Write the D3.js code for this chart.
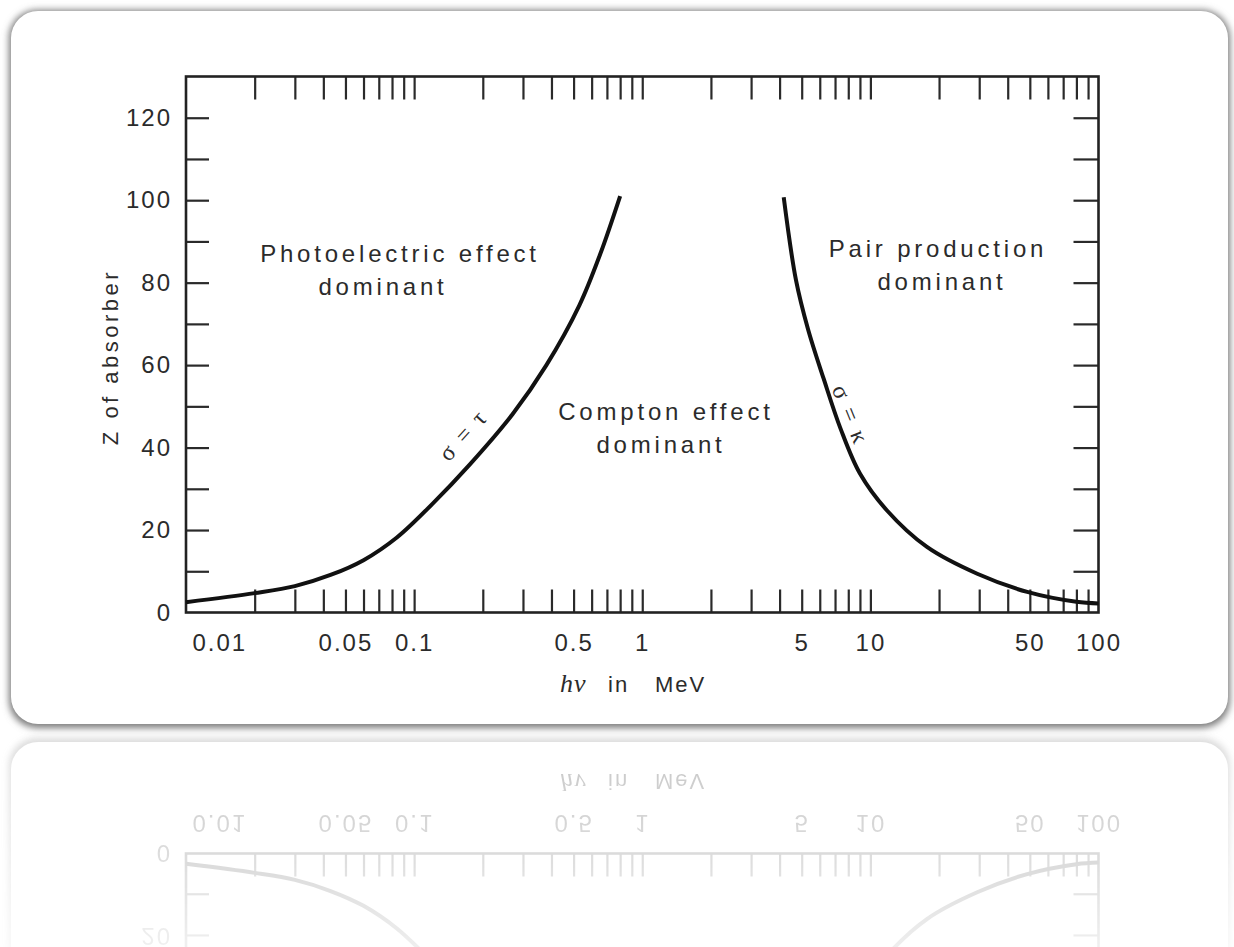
<!DOCTYPE html>
<html>
<head>
<script src="https://cdn.jsdelivr.net/npm/d3@7"></script>
<style>
  body { margin: 0; background: #fff; }
  svg text { font-family: "Liberation Sans", Arial, sans-serif; fill: #2b2b2b; }
  .tick-label text, .lbl { font-size: 24px; letter-spacing: 2px; }
  .region { font-size: 24px; letter-spacing: 3.8px; }
  .greek { font-family: "Liberation Serif", "DejaVu Serif", serif; font-size: 24px; letter-spacing: 11px; }
</style>
</head>
<body>
<svg id="fig" width="1234" height="947"></svg>
<script>
// axis ticks
const energyTicks = [0.02, 0.03, 0.04, 0.05, 0.06, 0.07, 0.08, 0.09, 0.1,
                     0.2, 0.3, 0.4, 0.5, 0.6, 0.7, 0.8, 0.9, 1,
                     2, 3, 4, 5, 6, 7, 8, 9, 10,
                     20, 30, 40, 50, 60, 70, 80, 90];
const energyLabels = [0.01, 0.05, 0.1, 0.5, 1, 5, 10, 50, 100];
const zTicks = [10, 20, 30, 40, 50, 60, 70, 80, 90, 100, 110, 120];
const zLabels = [0, 20, 40, 60, 80, 100, 120];

// sigma = tau boundary (photoelectric / Compton)
const photoEnergy = [0.01, 0.02, 0.03, 0.043, 0.06, 0.084, 0.12, 0.176, 0.27, 0.38, 0.53, 0.655, 0.8];
const photoZ      = [2.5, 4.7, 6.4, 9.1, 12.7, 18.2, 26.3, 36, 48.1, 60, 74.5, 87, 101];

// sigma = kappa boundary (Compton / pair production)
const pairEnergy = [4.17, 4.72, 5.33, 6.24, 7.4, 9.0, 11.8, 17.7, 29.4, 48.7, 80, 100];
const pairZ      = [100.7, 80.6, 68.7, 56.7, 44.6, 33.7, 24.8, 15.9, 9.4, 5.0, 2.6, 2.2];

const plotL = 186, plotR = 1098.5, plotT = 76.5, plotB = 612.5;
const x = d3.scaleLog().domain([0.01, 100]).range([plotL, plotR]);
const y = d3.scaleLinear().domain([0, 130]).range([plotB, plotT]);

const svg = d3.select("#fig");
const defs = svg.append("defs");

defs.append("filter").attr("id", "blur")
  .attr("x", "-5%").attr("y", "-5%").attr("width", "110%").attr("height", "110%")
  .append("feGaussianBlur").attr("stdDeviation", 3.5);

const grad = defs.append("linearGradient").attr("id", "fadeGrad")
  .attr("gradientUnits", "userSpaceOnUse")
  .attr("x1", 0).attr("y1", 733).attr("x2", 0).attr("y2", 947);
grad.append("stop").attr("offset", 0).attr("stop-color", "#fff").attr("stop-opacity", 0.28);
grad.append("stop").attr("offset", 1).attr("stop-color", "#fff").attr("stop-opacity", 0.07);
defs.append("mask").attr("id", "fade")
  .attr("maskUnits", "userSpaceOnUse")
  .attr("x", 0).attr("y", 733).attr("width", 1234).attr("height", 214)
  .append("rect").attr("x", 0).attr("y", 733).attr("width", 1234).attr("height", 214)
  .attr("fill", "url(#fadeGrad)");

const scene = svg.append("g").attr("id", "scene");

// card with soft rim
scene.append("rect")
  .attr("x", 9).attr("y", 10).attr("width", 1221).attr("height", 718).attr("rx", 28)
  .attr("fill", "#7a7a7a").attr("filter", "url(#blur)");
scene.append("rect")
  .attr("x", 11).attr("y", 11).attr("width", 1217).attr("height", 713).attr("rx", 27)
  .attr("fill", "#fff");

const tickStyle = g => {
  g.select(".domain").remove();
  g.selectAll(".tick line").attr("stroke", "#2a2a2a").attr("stroke-width", 2.2);
};

scene.append("g").attr("transform", `translate(0,${plotB})`)
  .call(d3.axisBottom(x).tickValues(energyTicks).tickSize(-23).tickFormat(""))
  .call(tickStyle);
scene.append("g").attr("transform", `translate(0,${plotT})`)
  .call(d3.axisTop(x).tickValues(energyTicks).tickSize(-23).tickFormat(""))
  .call(tickStyle);
scene.append("g").attr("transform", `translate(${plotL},0)`)
  .call(d3.axisLeft(y).tickValues(zTicks).tickSize(-23).tickFormat(""))
  .call(tickStyle);
scene.append("g").attr("transform", `translate(${plotR},0)`)
  .call(d3.axisRight(y).tickValues(zTicks).tickSize(-25).tickFormat(""))
  .call(tickStyle);

// tick labels
scene.append("g").attr("class", "tick-label").attr("transform", `translate(${plotL},0)`)
  .call(d3.axisLeft(y).tickValues(zLabels).tickSize(0).tickPadding(14).tickFormat(d => d))
  .call(g => g.select(".domain").remove())
  .call(g => g.selectAll("text").attr("font-size", null).attr("font-family", null));

scene.append("g").attr("class", "tick-label").attr("transform", `translate(0,${plotB})`)
  .call(d3.axisBottom(x).tickValues(energyLabels).tickSize(0).tickPadding(21).tickFormat(d => String(d)))
  .call(g => g.select(".domain").remove())
  .call(g => g.selectAll("text").attr("font-size", null).attr("font-family", null))
  .call(g => g.selectAll("text").filter(d => d === 0.01).attr("text-anchor", "start").attr("x", 6));

// frame
scene.append("rect")
  .attr("x", plotL).attr("y", plotT).attr("width", plotR - plotL).attr("height", plotB - plotT)
  .attr("fill", "none").attr("stroke", "#222").attr("stroke-width", 2.6);

// boundary curves
const line = d3.line().x(d => x(d[0])).y(d => y(d[1])).curve(d3.curveCatmullRom.alpha(0.5));
scene.append("path").datum(d3.zip(photoEnergy, photoZ))
  .attr("d", line).attr("fill", "none").attr("stroke", "#111").attr("stroke-width", 4);
scene.append("path").datum(d3.zip(pairEnergy, pairZ))
  .attr("d", line).attr("fill", "none").attr("stroke", "#111").attr("stroke-width", 4);

// region labels
const region = (cx, by, txt) => scene.append("text").attr("class", "region")
  .attr("x", cx).attr("y", by).attr("text-anchor", "middle").text(txt);
region(400, 262, "Photoelectric effect");
region(383, 295, "dominant");
region(666, 420, "Compton effect");
region(661, 453, "dominant");
region(938, 257, "Pair production");
region(942, 290, "dominant");

scene.append("text").attr("class", "greek").attr("text-anchor", "middle")
  .attr("transform", "translate(472,437) rotate(-48)").text("σ=τ");
scene.append("text").attr("class", "greek").attr("text-anchor", "middle")
  .attr("transform", "translate(845,422) rotate(68)").text("σ=κ");

// axis titles
scene.append("text").attr("class", "lbl").attr("text-anchor", "middle")
  .attr("transform", "translate(118,357) rotate(-90)")
  .style("font-size", "22px").style("letter-spacing", "3.5px").text("Z of absorber");

const xt = scene.append("text").attr("class", "lbl").attr("y", 692).style("font-size", "22px");
xt.append("tspan").attr("x", 560)
  .style("font-family", "'Liberation Serif', serif").style("font-style", "italic")
  .style("font-size", "26px").style("letter-spacing", "1px").text("hν");
xt.append("tspan").attr("x", 608).text("in");
xt.append("tspan").attr("x", 655).text("MeV");

// faded mirror reflection under the card
svg.append("g").attr("mask", "url(#fade)")
  .append("use").attr("href", "#scene")
  .attr("transform", "translate(0,1466) scale(1,-1)");
</script>
</body>
</html>
